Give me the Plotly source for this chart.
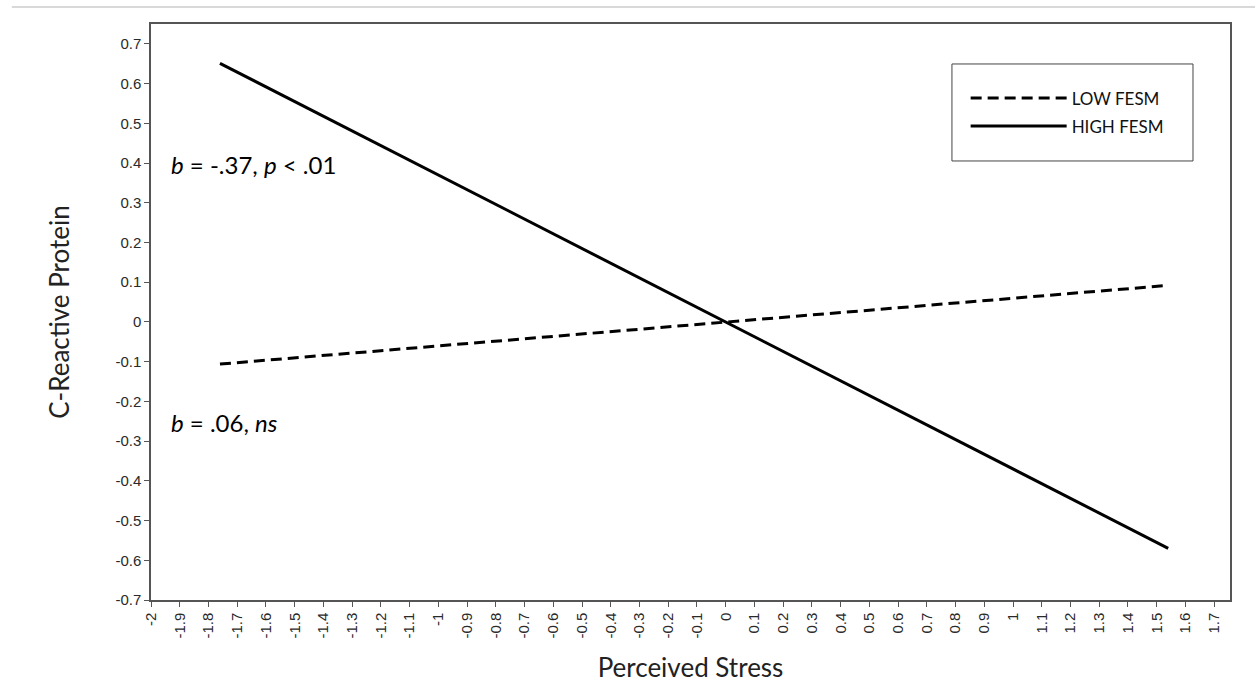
import plotly.graph_objects as go

# Simple-slope endpoints for the two moderator groups
stress_x = [-1.76, 1.54]
crp_low_fesm = [-0.106, 0.092]
crp_high_fesm = [0.651, -0.570]

series_names = ["LOW FESM", "HIGH FESM"]

x_tick_labels = ["-2", "-1.9", "-1.8", "-1.7", "-1.6", "-1.5", "-1.4", "-1.3", "-1.2", "-1.1",
                 "-1", "-0.9", "-0.8", "-0.7", "-0.6", "-0.5", "-0.4", "-0.3", "-0.2", "-0.1",
                 "0", "0.1", "0.2", "0.3", "0.4", "0.5", "0.6", "0.7", "0.8", "0.9",
                 "1", "1.1", "1.2", "1.3", "1.4", "1.5", "1.6", "1.7"]
y_tick_labels = ["-0.7", "-0.6", "-0.5", "-0.4", "-0.3", "-0.2", "-0.1", "0",
                 "0.1", "0.2", "0.3", "0.4", "0.5", "0.6", "0.7"]

slope_labels = ["<i>b</i> = -.37, <i>p</i> &lt; .01", "<i>b</i> = .06, <i>ns</i>"]

TICK_FONT = dict(family="Arial, Liberation Sans, sans-serif", size=15, color="#2a2a2a")
TEXT_FONT = "Lato, Open Sans, sans-serif"
AXIS_COLOR = "#555555"

fig = go.Figure()
fig.add_trace(go.Scatter(
    x=stress_x, y=crp_low_fesm, mode="lines", name=series_names[0],
    line=dict(color="black", width=3, dash="11px,6px"),
    legendgroup="low",
))
fig.add_trace(go.Scatter(
    x=stress_x, y=crp_high_fesm, mode="lines", name=series_names[1],
    line=dict(color="black", width=3),
    legendgroup="high",
))

fig.update_layout(
    width=1255, height=698,
    margin=dict(l=151, r=25, t=24, b=98),
    paper_bgcolor="white", plot_bgcolor="white",
    showlegend=True,
    legend=dict(
        x=0.755, y=0.902, xanchor="left", yanchor="top",
        bgcolor="rgba(0,0,0,0)", borderwidth=0,
        font=dict(family=TEXT_FONT, size=17, color="#111111"),
        itemwidth=96, traceorder="grouped", tracegroupgap=3,
    ),
    xaxis=dict(
        range=[-2, 1.755],
        tickvals=[float(t) for t in x_tick_labels], ticktext=x_tick_labels,
        tickangle=-90, tickfont=TICK_FONT,
        ticks="outside", ticklen=5, tickcolor=AXIS_COLOR, tickwidth=1,
        showline=True, linecolor=AXIS_COLOR, linewidth=1.5, mirror=True,
        showgrid=False, zeroline=False,
        title=dict(text="Perceived Stress", standoff=21,
                   font=dict(family=TEXT_FONT, size=26, color="#222222")),
    ),
    yaxis=dict(
        range=[-0.7, 0.75],
        tickvals=[float(t) for t in y_tick_labels], ticktext=y_tick_labels,
        tickfont=TICK_FONT,
        ticks="outside", ticklen=5, tickcolor=AXIS_COLOR, tickwidth=1,
        showline=True, linecolor=AXIS_COLOR, linewidth=1.5, mirror=True,
        showgrid=False, zeroline=False,
        title=dict(text="C-Reactive Protein", standoff=38,
                   font=dict(family=TEXT_FONT, size=26, color="#222222")),
    ),
    annotations=[
        dict(text=slope_labels[0], x=-1.938, y=0.397, xref="x", yref="y",
             xanchor="left", yanchor="middle", showarrow=False,
             font=dict(family=TEXT_FONT, size=24, color="black")),
        dict(text=slope_labels[1], x=-1.938, y=-0.254, xref="x", yref="y",
             xanchor="left", yanchor="middle", showarrow=False,
             font=dict(family=TEXT_FONT, size=24, color="black")),
    ],
    shapes=[
        # legend frame
        dict(type="rect", xref="paper", yref="paper",
             x0=0.7423, x1=0.9657, y0=0.7622, y1=0.9306,
             line=dict(color="#444444", width=1), fillcolor="rgba(0,0,0,0)"),
        # thin rule across the top of the page
        dict(type="line", xref="paper", yref="paper",
             x0=-0.129, x1=1.03, y0=1.0295, y1=1.0295,
             line=dict(color="#cccccc", width=1.5)),
    ],
)

fig.write_html("out.html")
